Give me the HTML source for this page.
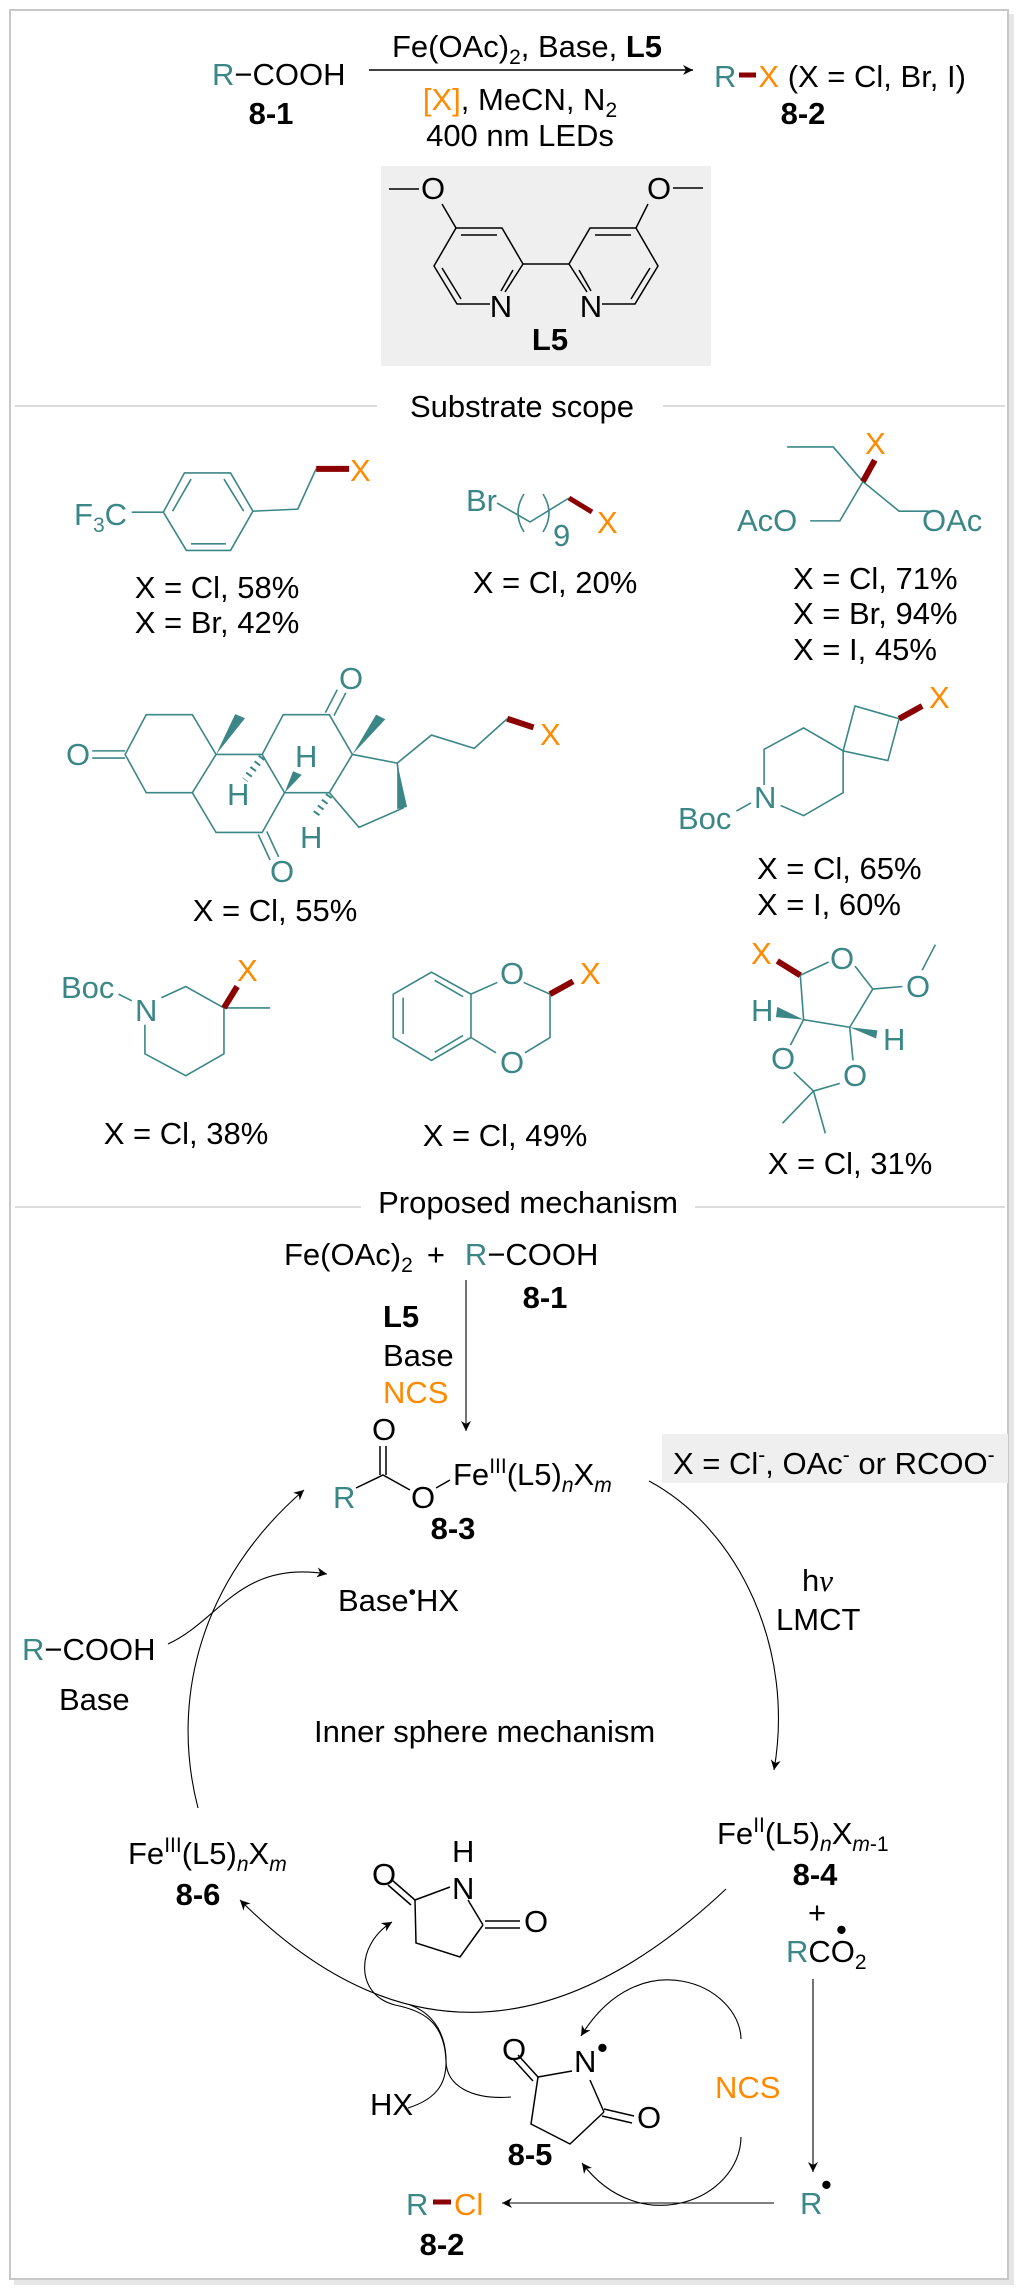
<!DOCTYPE html>
<html><head><meta charset="utf-8"><style>
html,body{margin:0;padding:0;background:#fff}
svg{display:block}
text{font-family:"Liberation Sans",Arial,sans-serif;font-size:31px;fill:#000}
.t{fill:#3b8686}.o{fill:#ff8a00}.b{font-weight:bold}
.ts{stroke:#3b8686;stroke-width:1.6;fill:none;vector-effect:non-scaling-stroke}
.rd{stroke:#8b0000;stroke-width:6;fill:none;vector-effect:non-scaling-stroke}
.k{stroke:#000;stroke-width:1.5;fill:none}
.a{stroke:#000;stroke-width:1.1;fill:none}
</style></head><body>
<svg width="1021" height="2296" viewBox="0 0 1021 2296" xmlns="http://www.w3.org/2000/svg">
<defs>
<marker id="ah" viewBox="0 0 10 10" refX="10" refY="5" markerWidth="14" markerHeight="10" markerUnits="userSpaceOnUse" orient="auto"><path d="M0,0 L10,5 L0,10 L3,5 z" fill="#000"/></marker>
</defs>
<rect x="14" y="14" width="1000" height="2271" fill="#e6e6e6"/>
<rect x="10" y="10" width="998" height="2269" fill="#fff" stroke="#c8c8c8" stroke-width="2"/>

<!-- top reaction -->
<text x="212" y="85"><tspan class="t">R</tspan>−COOH</text>
<text x="271" y="124" class="b" text-anchor="middle">8-1</text>
<line x1="369" y1="70" x2="693" y2="70" class="k" marker-end="url(#ah)"/>
<text x="527" y="57" text-anchor="middle">Fe(OAc)<tspan font-size="21" dy="7">2</tspan><tspan dy="-7">, Base, </tspan><tspan class="b">L5</tspan></text>
<text x="520" y="110" text-anchor="middle"><tspan class="o">[X]</tspan>, MeCN, N<tspan font-size="21" dy="7">2</tspan></text>
<text x="520" y="146" text-anchor="middle">400 nm LEDs</text>
<text x="714" y="87"><tspan class="t">R</tspan><tspan dx="22" class="o">X</tspan> (X = Cl, Br, I)</text>
<line x1="739" y1="75" x2="756" y2="75" stroke="#8b0000" stroke-width="5"/>
<text x="803" y="124" class="b" text-anchor="middle">8-2</text>

<rect x="381" y="166" width="330" height="200" fill="#efefef"/>
<g class="k">
<line x1="389" y1="189" x2="419" y2="189"/><line x1="442" y1="204" x2="456" y2="228"/>
<polyline points="456,228 502,228 523,264"/><line x1="461" y1="235" x2="497" y2="235"/>
<polyline points="456,228 434,266 457,304 490,304"/><line x1="442" y1="268" x2="461" y2="299"/>
<line x1="505" y1="292" x2="523" y2="264"/><line x1="513" y1="270" x2="501" y2="291"/>
<line x1="523" y1="264" x2="569" y2="264"/>
<line x1="673" y1="188" x2="703" y2="188"/><line x1="648" y1="204" x2="636" y2="228"/>
<polyline points="636,228 590,228 569,264"/><line x1="595" y1="235" x2="631" y2="235"/>
<polyline points="636,228 658,266 635,304 602,304"/><line x1="650" y1="268" x2="631" y2="299"/>
<line x1="587" y1="292" x2="569" y2="264"/><line x1="579" y1="270" x2="591" y2="291"/>
</g>
<text x="433" y="199" text-anchor="middle">O</text>
<text x="659" y="199" text-anchor="middle">O</text>
<text x="501" y="317" text-anchor="middle">N</text>
<text x="591" y="317" text-anchor="middle">N</text>
<text x="550" y="350" class="b" text-anchor="middle">L5</text>

<line x1="15" y1="406" x2="377" y2="406" stroke="#d0d0d0" stroke-width="1.5"/>
<line x1="663" y1="406" x2="1005" y2="406" stroke="#d0d0d0" stroke-width="1.5"/>
<text x="522" y="417" text-anchor="middle">Substrate scope</text>

<g transform="translate(0,400) scale(0.6587,0.51)">
<polygon class="ts" points="248,220 280,143 350,143 384,218 350,295 283,295"/>
<line class="ts" x1="262" y1="218" x2="290" y2="155"/><line class="ts" x1="340" y1="155" x2="370" y2="218"/><line class="ts" x1="290" y1="282" x2="343" y2="282"/>
<line class="ts" x1="200" y1="220" x2="248" y2="220"/>
<polyline class="ts" points="384,218 452,214 480,135"/><line class="rd" x1="480" y1="135" x2="530" y2="135"/>
<polyline class="ts" points="1195,92 1265,92 1310,160 1275,237 1230,237"/>
<polyline class="ts" points="1310,160 1365,218 1410,218"/>
<line class="rd" x1="1310" y1="160" x2="1328" y2="118"/>
<polygon class="ts" points="190,695 222,617 292,617 328,695 292,770 222,770"/>
<polyline class="ts" points="328,695 398,695 432,770 398,848 328,848 292,770"/>
<polyline class="ts" points="398,695 430,617 500,617 535,695 500,770 432,770"/>
<polyline class="ts" points="535,695 603,712 612,800 545,838 500,770"/>
<line class="ts" x1="190" y1="688" x2="140" y2="688"/><line class="ts" x1="190" y1="702" x2="140" y2="702"/>
<line class="ts" x1="392" y1="852" x2="410" y2="902"/><line class="ts" x1="405" y1="846" x2="423" y2="896"/>
<line class="ts" x1="494" y1="613" x2="512" y2="568"/><line class="ts" x1="507" y1="619" x2="525" y2="574"/>
<polyline class="ts" points="603,712 655,657 720,683 770,625"/><line class="rd" x1="770" y1="625" x2="810" y2="642"/>
<polygon fill="#3b8686" points="328,695 357,616 372,624"/>
<polygon fill="#3b8686" points="535,695 571,617 585,626"/>
<polygon fill="#3b8686" points="603,712 603,802 618,798"/>
<polygon fill="#3b8686" points="432,770 445,728 458,735"/>
<line class="ts" x1="398" y1="700" x2="372" y2="745" stroke-dasharray="2 5" style="stroke-width:7"/>
<line class="ts" x1="500" y1="775" x2="478" y2="815" stroke-dasharray="2 5" style="stroke-width:7"/>
<polyline class="ts" points="1140,790 1118,806"/>
<polyline class="ts" points="1160,755 1160,685 1220,643 1280,688 1280,770 1220,815 1185,795"/>
<polygon class="ts" points="1280,688 1298,600 1365,625 1348,707"/>
<line class="rd" x1="1365" y1="625" x2="1400" y2="600"/>
<line class="ts" x1="180" y1="1165" x2="200" y2="1178"/>
<polyline class="ts" points="245,1172 282,1150 340,1192 340,1282 282,1325 220,1282 220,1225"/>
<line class="ts" x1="340" y1="1192" x2="410" y2="1192"/>
<line class="rd" x1="340" y1="1192" x2="360" y2="1150"/>
<polygon class="ts" points="597,1165 655,1122 715,1165 715,1250 655,1295 597,1250"/>
<line class="ts" x1="612" y1="1172" x2="612" y2="1243"/><line class="ts" x1="660" y1="1138" x2="703" y2="1170"/><line class="ts" x1="660" y1="1279" x2="703" y2="1246"/>
<polyline class="ts" points="715,1165 755,1142"/><polyline class="ts" points="795,1142 835,1165 835,1250 797,1280"/><polyline class="ts" points="753,1280 715,1250"/>
<line class="rd" x1="835" y1="1165" x2="870" y2="1140"/>
<polyline class="ts" points="1258,1102 1215,1128 1220,1215 1290,1230 1325,1155 1298,1110"/>
<line class="rd" x1="1215" y1="1128" x2="1180" y2="1100"/>
<line class="ts" x1="1325" y1="1155" x2="1370" y2="1150"/><line class="ts" x1="1400" y1="1118" x2="1420" y2="1068"/>
<polygon fill="#3b8686" points="1220,1215 1180,1190 1178,1210"/>
<polygon fill="#3b8686" points="1290,1230 1332,1236 1330,1252"/>
<line class="ts" x1="1220" y1="1215" x2="1200" y2="1265"/><line class="ts" x1="1290" y1="1230" x2="1295" y2="1295"/>
<polyline class="ts" points="1205,1318 1235,1355 1275,1340"/>
<line class="ts" x1="1235" y1="1355" x2="1188" y2="1418"/><line class="ts" x1="1235" y1="1355" x2="1253" y2="1438"/>
</g>

<polyline points="497,503 530,522 569,498" stroke="#3b8686" stroke-width="1.6" fill="none"/>
<line x1="569" y1="498" x2="592" y2="512" stroke="#8b0000" stroke-width="5"/>
<path d="M524,494 Q512,513 524,532" stroke="#3b8686" stroke-width="1.6" fill="none"/>
<path d="M543,494 Q555,513 543,532" stroke="#3b8686" stroke-width="1.6" fill="none"/>

<text x="74" y="525" class="t">F<tspan font-size="21" dy="7">3</tspan><tspan dy="-7">C</tspan></text>
<text x="350" y="481" class="o">X</text>
<text x="217" y="598" text-anchor="middle">X = Cl, 58%</text>
<text x="217" y="633" text-anchor="middle">X = Br, 42%</text>
<text x="466" y="511" class="t">Br</text>
<text x="597" y="533" class="o">X</text>
<text x="553" y="546" class="t" font-size="21">9</text>
<text x="555" y="593" text-anchor="middle">X = Cl, 20%</text>
<text x="737" y="531" class="t">AcO</text>
<text x="922" y="531" class="t">OAc</text>
<text x="865" y="454" class="o">X</text>
<text x="793" y="589">X = Cl, 71%</text>
<text x="793" y="624">X = Br, 94%</text>
<text x="793" y="660">X = I, 45%</text>
<text x="66" y="765" class="t">O</text>
<text x="270" y="882" class="t">O</text>
<text x="339" y="689" class="t">O</text>
<text x="540" y="745" class="o">X</text>
<text x="227" y="805" class="t">H</text>
<text x="295" y="767" class="t">H</text>
<text x="300" y="848" class="t">H</text>
<text x="275" y="921" text-anchor="middle">X = Cl, 55%</text>
<text x="929" y="708" class="o">X</text>
<text x="754" y="808" class="t">N</text>
<text x="678" y="829" class="t">Boc</text>
<text x="757" y="879">X = Cl, 65%</text>
<text x="757" y="915">X = I, 60%</text>
<text x="237" y="981" class="o">X</text>
<text x="61" y="998" class="t">Boc</text>
<text x="135" y="1021" class="t">N</text>
<text x="186" y="1144" text-anchor="middle">X = Cl, 38%</text>
<text x="500" y="984" class="t">O</text>
<text x="500" y="1073" class="t">O</text>
<text x="580" y="984" class="o">X</text>
<text x="505" y="1146" text-anchor="middle">X = Cl, 49%</text>
<text x="830" y="969" class="t">O</text>
<text x="751" y="964" class="o">X</text>
<text x="906" y="997" class="t">O</text>
<text x="751" y="1021" class="t">H</text>
<text x="883" y="1050" class="t">H</text>
<text x="771" y="1069" class="t">O</text>
<text x="843" y="1086" class="t">O</text>
<text x="850" y="1174" text-anchor="middle">X = Cl, 31%</text>

<line x1="15" y1="1207" x2="361" y2="1207" stroke="#d0d0d0" stroke-width="1.5"/>
<line x1="695" y1="1207" x2="1005" y2="1207" stroke="#d0d0d0" stroke-width="1.5"/>
<text x="528" y="1213" text-anchor="middle">Proposed mechanism</text>
<text x="284" y="1265">Fe(OAc)<tspan font-size="21" dy="7">2</tspan><tspan dy="-7" dx="14">+</tspan><tspan dx="20" class="t">R</tspan>−COOH</text>
<text x="545" y="1308" class="b" text-anchor="middle">8-1</text>
<line x1="466" y1="1280" x2="466" y2="1431" class="a" marker-end="url(#ah)"/>
<text x="383" y="1327" class="b">L5</text>
<text x="383" y="1366">Base</text>
<text x="383" y="1403" class="o">NCS</text>

<text x="372" y="1440">O</text>
<line x1="380" y1="1446" x2="380" y2="1475" class="k"/><line x1="386" y1="1446" x2="386" y2="1475" class="k"/>
<polyline points="356,1488 383,1475 410,1490" class="k"/>
<line x1="436" y1="1488" x2="450" y2="1480" class="k"/>
<text x="333" y="1508" class="t">R</text>
<text x="411" y="1508">O</text>
<text x="453" y="1485">Fe<tspan font-size="21" dy="-12">III</tspan><tspan dy="12">(L5)</tspan><tspan font-size="21" dy="7" font-style="italic">n</tspan><tspan dy="-7">X</tspan><tspan font-size="21" dy="7" font-style="italic">m</tspan></text>
<text x="453" y="1539" class="b" text-anchor="middle">8-3</text>

<rect x="662" y="1434" width="346" height="49" fill="#efefef"/>
<text x="673" y="1474">X = Cl<tspan font-size="21" dy="-12">-</tspan><tspan dy="12">, OAc</tspan><tspan font-size="21" dy="-12">-</tspan><tspan dy="12"> or RCOO</tspan><tspan font-size="21" dy="-12">-</tspan></text>

<path d="M649,1481 C740,1530 795,1650 774,1770" class="a" marker-end="url(#ah)"/>
<text x="802" y="1591">h<tspan font-family="Liberation Serif" font-style="italic">ν</tspan></text>
<text x="776" y="1630">LMCT</text>

<path d="M198,1808 C170,1700 200,1580 304,1490" class="a" marker-end="url(#ah)"/>
<path d="M168,1644 C220,1620 240,1560 327,1574" class="a" marker-end="url(#ah)"/>
<text x="338" y="1611">Base<tspan font-size="21" dy="-12">•</tspan><tspan dy="12">HX</tspan></text>
<text x="22" y="1660"><tspan class="t">R</tspan>−COOH</text>
<text x="59" y="1710">Base</text>
<text x="314" y="1742">Inner sphere mechanism</text>

<text x="717" y="1844">Fe<tspan font-size="21" dy="-12">II</tspan><tspan dy="12">(L5)</tspan><tspan font-size="21" dy="7" font-style="italic">n</tspan><tspan dy="-7">X</tspan><tspan font-size="21" dy="7"><tspan font-style="italic">m</tspan>-1</tspan></text>
<text x="815" y="1885" class="b" text-anchor="middle">8-4</text>
<text x="817" y="1923" text-anchor="middle">+</text>
<text x="786" y="1962"><tspan class="t">R</tspan>CO<tspan font-size="21" dy="7">2</tspan></text>
<text x="836" y="1940" font-size="21">•</text>
<line x1="813" y1="1979" x2="813" y2="2172" class="a" marker-end="url(#ah)"/>
<text x="800" y="2214" class="t">R</text>
<text x="821" y="2195" font-size="21">•</text>
<line x1="774" y1="2203" x2="502" y2="2203" class="a" marker-end="url(#ah)"/>
<text x="406" y="2215" class="t">R</text>
<line x1="433" y1="2202" x2="451" y2="2202" stroke="#8b0000" stroke-width="5"/>
<text x="454" y="2215" class="o">Cl</text>
<text x="442" y="2255" class="b" text-anchor="middle">8-2</text>

<text x="128" y="1864">Fe<tspan font-size="21" dy="-12">III</tspan><tspan dy="12">(L5)</tspan><tspan font-size="21" dy="7" font-style="italic">n</tspan><tspan dy="-7">X</tspan><tspan font-size="21" dy="7" font-style="italic">m</tspan></text>
<text x="198" y="1905" class="b" text-anchor="middle">8-6</text>
<path d="M726,1889 Q470,2130 240,1900" class="a" marker-end="url(#ah)"/>

<text x="372" y="1885">O</text>
<text x="452" y="1862">H</text>
<text x="452" y="1899">N</text>
<text x="524" y="1932">O</text>
<g class="k">
<line x1="415" y1="1900" x2="450" y2="1887"/>
<line x1="468" y1="1900" x2="483" y2="1925"/>
<polyline points="483,1925 460,1957 416,1943 415,1900"/>
<line x1="485" y1="1921" x2="520" y2="1921"/><line x1="485" y1="1928" x2="520" y2="1928"/>
<line x1="415" y1="1900" x2="392" y2="1880"/><line x1="411" y1="1905" x2="388" y2="1885"/>
</g>
<text x="502" y="2060">O</text>
<text x="574" y="2072">N</text>
<text x="597" y="2058" font-size="21">•</text>
<text x="637" y="2128">O</text>
<g class="k">
<line x1="538" y1="2077" x2="572" y2="2071"/>
<line x1="590" y1="2080" x2="604" y2="2112"/>
<polyline points="604,2112 570,2144 531,2124 538,2077"/>
<line x1="604" y1="2109" x2="634" y2="2116"/><line x1="602" y1="2116" x2="632" y2="2123"/>
<line x1="538" y1="2077" x2="518" y2="2055"/><line x1="533" y1="2081" x2="513" y2="2059"/>
</g>
<text x="530" y="2165" class="b" text-anchor="middle">8-5</text>
<text x="370" y="2115">HX</text>
<text x="715" y="2098" class="o">NCS</text>

<path d="M511,2097 C470,2100 447,2085 446,2062 C445,2020 420,2010 395,2005 C355,1995 355,1945 392,1922" class="a" marker-end="url(#ah)"/>
<path d="M408,2108 C440,2098 447,2080 446,2058 C445,2030 430,2012 410,2005" class="a"/>
<path d="M741,2039 C740,1985 640,1940 581,2036" class="a" marker-end="url(#ah)"/>
<path d="M741,2137 C740,2200 640,2240 582,2163" class="a" marker-end="url(#ah)"/>
</svg>
</body></html>
